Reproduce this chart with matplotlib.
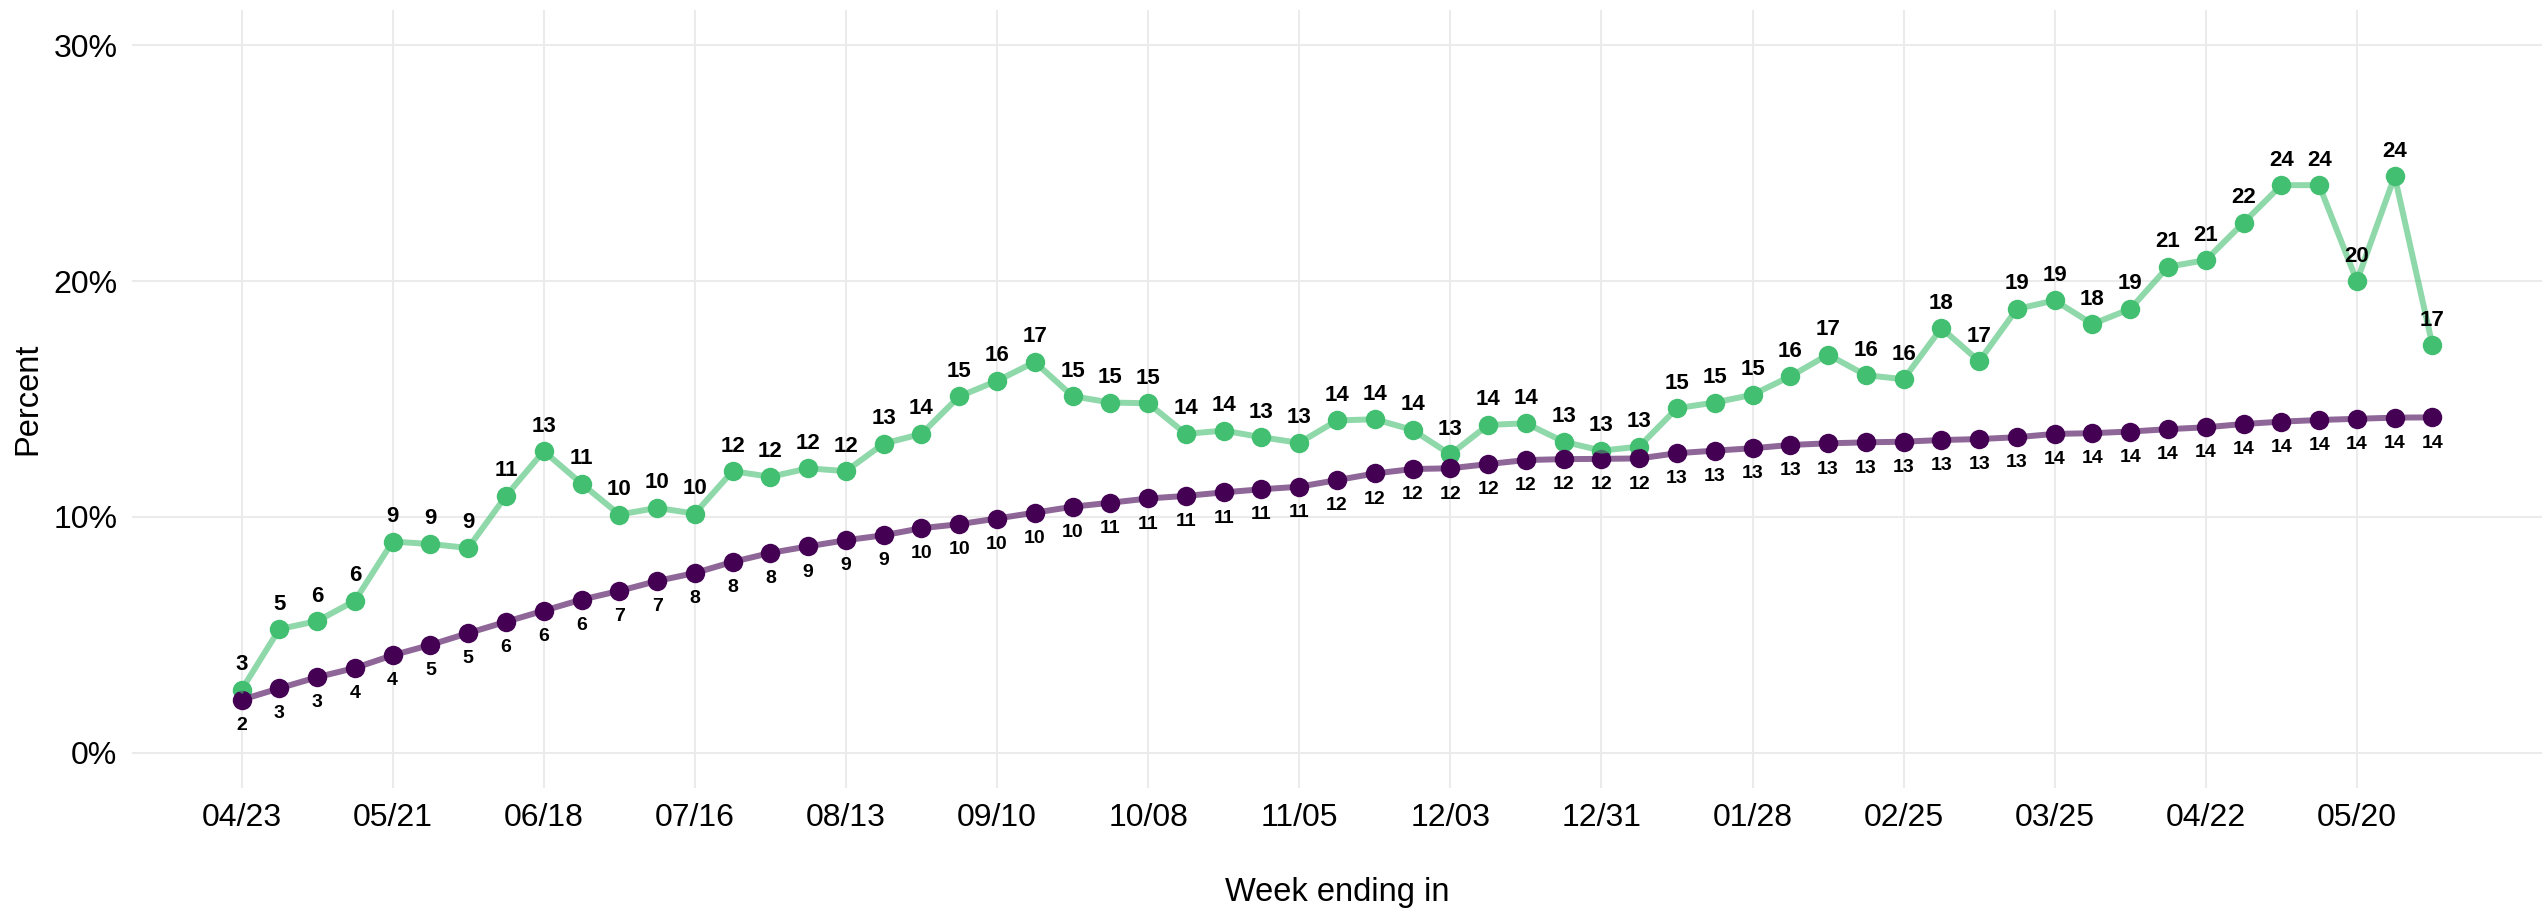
import pandas as pd
import matplotlib
matplotlib.use("Agg")
import matplotlib.pyplot as plt
from matplotlib.ticker import FuncFormatter

plt.rcParams['font.family'] = ['Liberation Sans', 'DejaVu Sans']

# week ending dates (Saturdays)
weeks = pd.date_range("2022-04-23", "2023-06-03", freq="7D")

# weekly percent (green)
weekly_pct = [2.66, 5.24, 5.58, 6.44, 8.95, 8.85, 8.68, 10.89, 12.79, 11.41,
              10.10, 10.38, 10.14, 11.94, 11.70, 12.06, 11.94, 13.11, 13.52, 15.11,
              15.77, 16.57, 15.12, 14.85, 14.82, 13.52, 13.66, 13.38, 13.14, 14.09,
              14.14, 13.69, 12.65, 13.90, 13.97, 13.19, 12.81, 12.98, 14.61, 14.85,
              15.18, 15.96, 16.88, 16.01, 15.84, 18.01, 16.60, 18.82, 19.18, 18.18,
              18.82, 20.61, 20.89, 22.48, 24.07, 24.07, 20.00, 24.45, 17.28]

# cumulative percent (purple)
cumulative_pct = [2.24, 2.73, 3.20, 3.59, 4.13, 4.57, 5.07, 5.55, 6.02, 6.49,
                  6.86, 7.28, 7.62, 8.09, 8.47, 8.75, 9.01, 9.22, 9.52, 9.69,
                  9.93, 10.18, 10.43, 10.60, 10.78, 10.89, 11.04, 11.17, 11.28, 11.56,
                  11.84, 12.03, 12.06, 12.24, 12.41, 12.45, 12.46, 12.48, 12.70, 12.81,
                  12.91, 13.05, 13.12, 13.16, 13.19, 13.26, 13.30, 13.38, 13.52, 13.55,
                  13.62, 13.72, 13.80, 13.94, 14.04, 14.11, 14.16, 14.21, 14.22]

tick_labels = ["04/23", "05/21", "06/18", "07/16", "08/13", "09/10", "10/08", "11/05",
               "12/03", "12/31", "01/28", "02/25", "03/25", "04/22", "05/20"]
tick_weeks = weeks[::4]

green = "#43BF71"
purple = "#440154"

W, H = 2542, 910
fig = plt.figure(figsize=(W / 100, H / 100), dpi=100)
ax = fig.add_axes([132 / W, (H - 788) / H, (W - 132) / W, 778 / H])

# points first, translucent lines on top (as in the original)
ax.plot(weeks, weekly_pct, "o", color=green, ms=14, mew=0, zorder=3)
ax.plot(weeks, cumulative_pct, "o", color=purple, ms=14, mew=0, zorder=3)
ax.plot(weeks, weekly_pct, "-", color=green, lw=4.3, alpha=0.6, zorder=4)
ax.plot(weeks, cumulative_pct, "-", color=purple, lw=4.3, alpha=0.6, zorder=4)

for d, v in zip(weeks, weekly_pct):
    ax.annotate(f"{v:.0f}", (d, v), xytext=(0, 18), textcoords="offset points",
                ha="center", va="center", fontsize=16, fontweight="bold", zorder=5)
for d, v in zip(weeks, cumulative_pct):
    ax.annotate(f"{v:.0f}", (d, v), xytext=(0, -18.5), textcoords="offset points",
                ha="center", va="center", fontsize=14, fontweight="bold", zorder=5)

span = weeks[-1] - weeks[0]
ax.set_xlim(weeks[0] - span * 0.05, weeks[-1] + span * 0.05)
ax.set_ylim(-1.5, 31.5)
ax.set_yticks([0, 10, 20, 30])
ax.yaxis.set_major_formatter(FuncFormatter(lambda v, p: f"{v:.0f}%"))
ax.set_xticks(tick_weeks)
ax.set_xticklabels(tick_labels)

ax.grid(True, color="#EBEBEB", lw=1.5, zorder=0)
ax.set_axisbelow(True)
for s in ax.spines.values():
    s.set_visible(False)
ax.tick_params(length=0, labelsize=23, pad=10.5, colors="black")

ax.set_xlabel("Week ending in", fontsize=23.5)
ax.xaxis.set_label_coords(0.5, (788 - 892) / 778)
ax.xaxis.label.set_va("center")
ax.set_ylabel("Percent", fontsize=23.5)
ax.yaxis.set_label_coords((28 - 132) / (W - 132), 0.5)
ax.yaxis.label.set_va("center")

fig.savefig("out.png", dpi=100)
